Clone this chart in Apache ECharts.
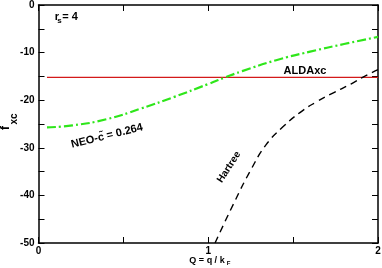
<!DOCTYPE html>
<html><head><meta charset="utf-8">
<script src="https://cdn.jsdelivr.net/npm/echarts@6/dist/echarts.min.js"></script>
<style>html,body{margin:0;padding:0;background:#fff}#c{width:382px;height:268px}</style>
</head><body><div id="c"></div>
<script>
const xTicks = [0, 1, 2];
const yTicks = [0, -10, -20, -30, -40, -50];
const neoQ = [0.05, 0.2, 0.4, 0.6, 0.8, 1.0, 1.1, 1.2, 1.4, 1.6, 1.8, 2.0];
const neoF = [-25.7, -25.3, -24.0, -21.8, -19.3, -16.6, -15.2, -13.9, -11.6, -9.8, -8.2, -6.7];
const hartreeQ = [1.04, 1.15, 1.25, 1.34, 1.44, 1.54, 1.64, 1.74, 1.84, 1.92, 2.0];
const hartreeF = [-50, -41.7, -34.7, -29.4, -25.6, -22.6, -20.3, -18.4, -16.6, -15.0, -13.6];
const aldaQ = [0.05, 2.0];
const aldaF = [-15.2, -15.2];

const chart = echarts.init(document.getElementById('c'));
const font = 'Liberation Sans, Arial, sans-serif';
const pair = (xs, ys) => xs.map((x, i) => [x, ys[i]]);
const axisLine = {show: true, onZero: false, lineStyle: {color: '#000', width: 1.5}};
const tick = {inside: true, length: 6, lineStyle: {color: '#000'}};
const minor = {show: true, splitNumber: 2, length: 6, lineStyle: {color: '#000'}};
const bold = {fontWeight: 'bold', fontFamily: font, color: '#000'};
const gtext = (x, y, text, size, rot, extra) => ({type: 'text', x, y, rotation: rot * Math.PI / 180,
  style: Object.assign({text, fontSize: size, fontWeight: 'bold', fontFamily: font, fill: '#000', align: 'center', verticalAlign: 'middle'}, extra || {})});
chart.setOption({
  animation: false,
  grid: {left: 38.5, right: 4, top: 5, bottom: 25, containLabel: false, outerBoundsMode: 'none'},
  xAxis: [
    {type: 'value', min: 0, max: 2, interval: 1, position: 'bottom',
     axisLine, axisTick: tick, minorTick: minor, splitLine: {show: false},
     axisLabel: Object.assign({fontSize: 10, margin: 3, formatter: v => xTicks.includes(v) ? String(v) : ''}, bold)},
    {type: 'value', min: 0, max: 2, interval: 1, position: 'top',
     axisLine, axisTick: tick, minorTick: minor, splitLine: {show: false}, axisLabel: {show: false}}
  ],
  yAxis: [
    {type: 'value', min: -50, max: 0, interval: 10, position: 'left',
     axisLine, axisTick: tick, minorTick: minor, splitLine: {show: false},
     axisLabel: Object.assign({fontSize: 10, margin: 4, formatter: v => yTicks.includes(v) ? String(v) : ''}, bold)},
    {type: 'value', min: -50, max: 0, interval: 10, position: 'right',
     axisLine, axisTick: tick, minorTick: minor, splitLine: {show: false}, axisLabel: {show: false}}
  ],
  series: [
    {type: 'line', data: pair(aldaQ, aldaF), symbol: 'none',
     lineStyle: {color: '#d41a1a', width: 1.2}},
    {type: 'line', data: pair(neoQ, neoF), symbol: 'none', smooth: true,
     lineStyle: {color: '#2ee61a', width: 2.2, type: [9, 3, 2, 3]}},
    {type: 'line', data: pair(hartreeQ, hartreeF), symbol: 'none', smooth: true,
     lineStyle: {color: '#000', width: 1.4, type: [7, 5]}}
  ],
  graphic: [
    gtext(57, 17, 'r', 11, 0),
    gtext(59.5, 21, 's', 8, 0),
    gtext(70, 16.5, '= 4', 11, 0),
    gtext(305, 71, 'ALDAxc', 11, 0),
    gtext(107, 136, 'NEO-c\u0303 = 0.264', 11, 14),
    gtext(229, 167, 'Hartree', 10, 57),
    gtext(6, 128, 'f', 12, 90),
    gtext(14.5, 119, 'xc', 10, 90),
    gtext(207, 261, 'Q = q / k', 9, 0),
    gtext(228.5, 263.5, 'F', 6, 0)
  ]
});
</script></body></html>
